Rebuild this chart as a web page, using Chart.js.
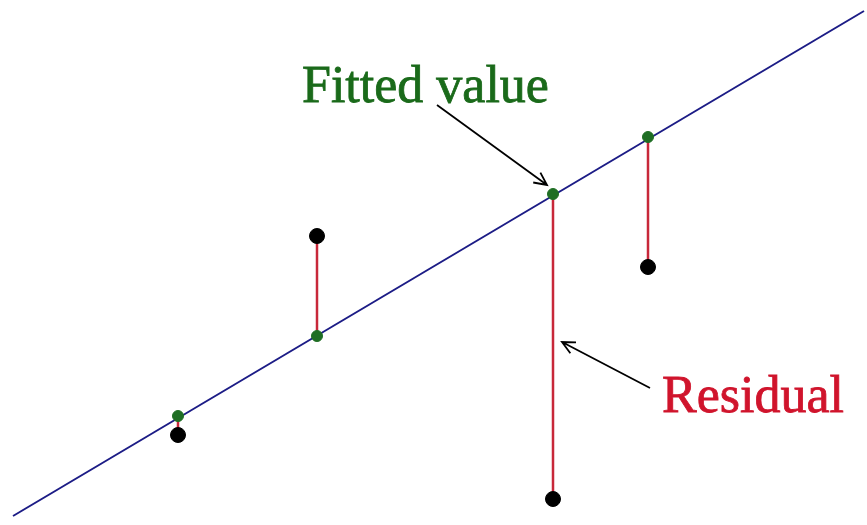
<!DOCTYPE html>
<html lang="en">
<head>
  <meta charset="UTF-8" />
  <title>Fitted value and residual</title>
  <script src="https://cdn.jsdelivr.net/npm/chart.js"></script>
  <style>
    body {
      margin: 0;
      background: #fff;
    }
    canvas {
      display: block;
    }
  </style>
</head>
<body>
  <canvas id="chart" width="867" height="525"></canvas>

  <script>
    // x positions of the observations
    const xValues = [178, 317, 553, 648];
    // observed values (black dots)
    const observed = [90, 289, 26, 258];
    // fitted values on the regression line (green dots)
    const fitted = [109, 189, 331, 388];
    // regression line end points
    const lineX = [13, 864];
    const lineY = [9, 514];

    const pts = (ys) => xValues.map((x, i) => ({ x, y: ys[i] }));

    const residualSets = xValues.map((x, i) => ({
      type: 'line',
      data: [{ x, y: fitted[i] }, { x, y: observed[i] }],
      borderColor: '#c8283a',
      borderWidth: 2.5,
      pointRadius: 0,
      fill: false
    }));

    // labels and arrows
    const notes = {
      id: 'notes',
      afterDatasetsDraw(chart) {
        const ctx = chart.ctx;
        const sx = chart.scales.x, sy = chart.scales.y;
        const px = v => sx.getPixelForValue(v);
        const py = v => sy.getPixelForValue(v);

        function arrow(x1, y1, x2, y2) {
          const a = Math.atan2(y2 - y1, x2 - x1);
          const h = 14;
          ctx.save();
          ctx.strokeStyle = '#000';
          ctx.lineWidth = 1.8;
          ctx.beginPath();
          ctx.moveTo(x1, y1);
          ctx.lineTo(x2, y2);
          ctx.moveTo(x2 - h * Math.cos(a - 0.45), y2 - h * Math.sin(a - 0.45));
          ctx.lineTo(x2, y2);
          ctx.lineTo(x2 - h * Math.cos(a + 0.45), y2 - h * Math.sin(a + 0.45));
          ctx.stroke();
          ctx.restore();
        }

        ctx.save();
        ctx.font = '52px "Liberation Serif", "DejaVu Serif", serif';
        ctx.textBaseline = 'alphabetic';
        ctx.lineWidth = 0.8;
        ctx.fillStyle = ctx.strokeStyle = '#1a6a1a';
        ctx.fillText('Fitted value', px(302), py(423));
        ctx.strokeText('Fitted value', px(302), py(423));
        ctx.fillStyle = ctx.strokeStyle = '#d0142c';
        ctx.fillText('Residual', px(662), py(113));
        ctx.strokeText('Residual', px(662), py(113));
        ctx.restore();

        arrow(px(437), py(420), px(547), py(340));
        arrow(px(650), py(137), px(562), py(183));
      }
    };

    new Chart(document.getElementById('chart'), {
      type: 'scatter',
      data: {
        datasets: [
          {
            data: pts(fitted),
            backgroundColor: '#1f6e24',
            borderColor: '#1f6e24',
            pointRadius: 5.5
          },
          {
            data: pts(observed),
            backgroundColor: '#000',
            borderColor: '#000',
            pointRadius: 7.5
          },
          ...residualSets,
          {
            type: 'line',
            data: lineX.map((x, i) => ({ x, y: lineY[i] })),
            borderColor: '#1c1c86',
            borderWidth: 2,
            pointRadius: 0,
            fill: false
          }
        ]
      },
      options: {
        responsive: false,
        animation: false,
        layout: { padding: 0, autoPadding: false },
        plugins: {
          legend: { display: false },
          tooltip: { enabled: false }
        },
        scales: {
          x: { type: 'linear', min: 0, max: 867, display: false },
          y: { type: 'linear', min: 0, max: 525, display: false }
        }
      },
      plugins: [notes]
    });
  </script>
</body>
</html>
